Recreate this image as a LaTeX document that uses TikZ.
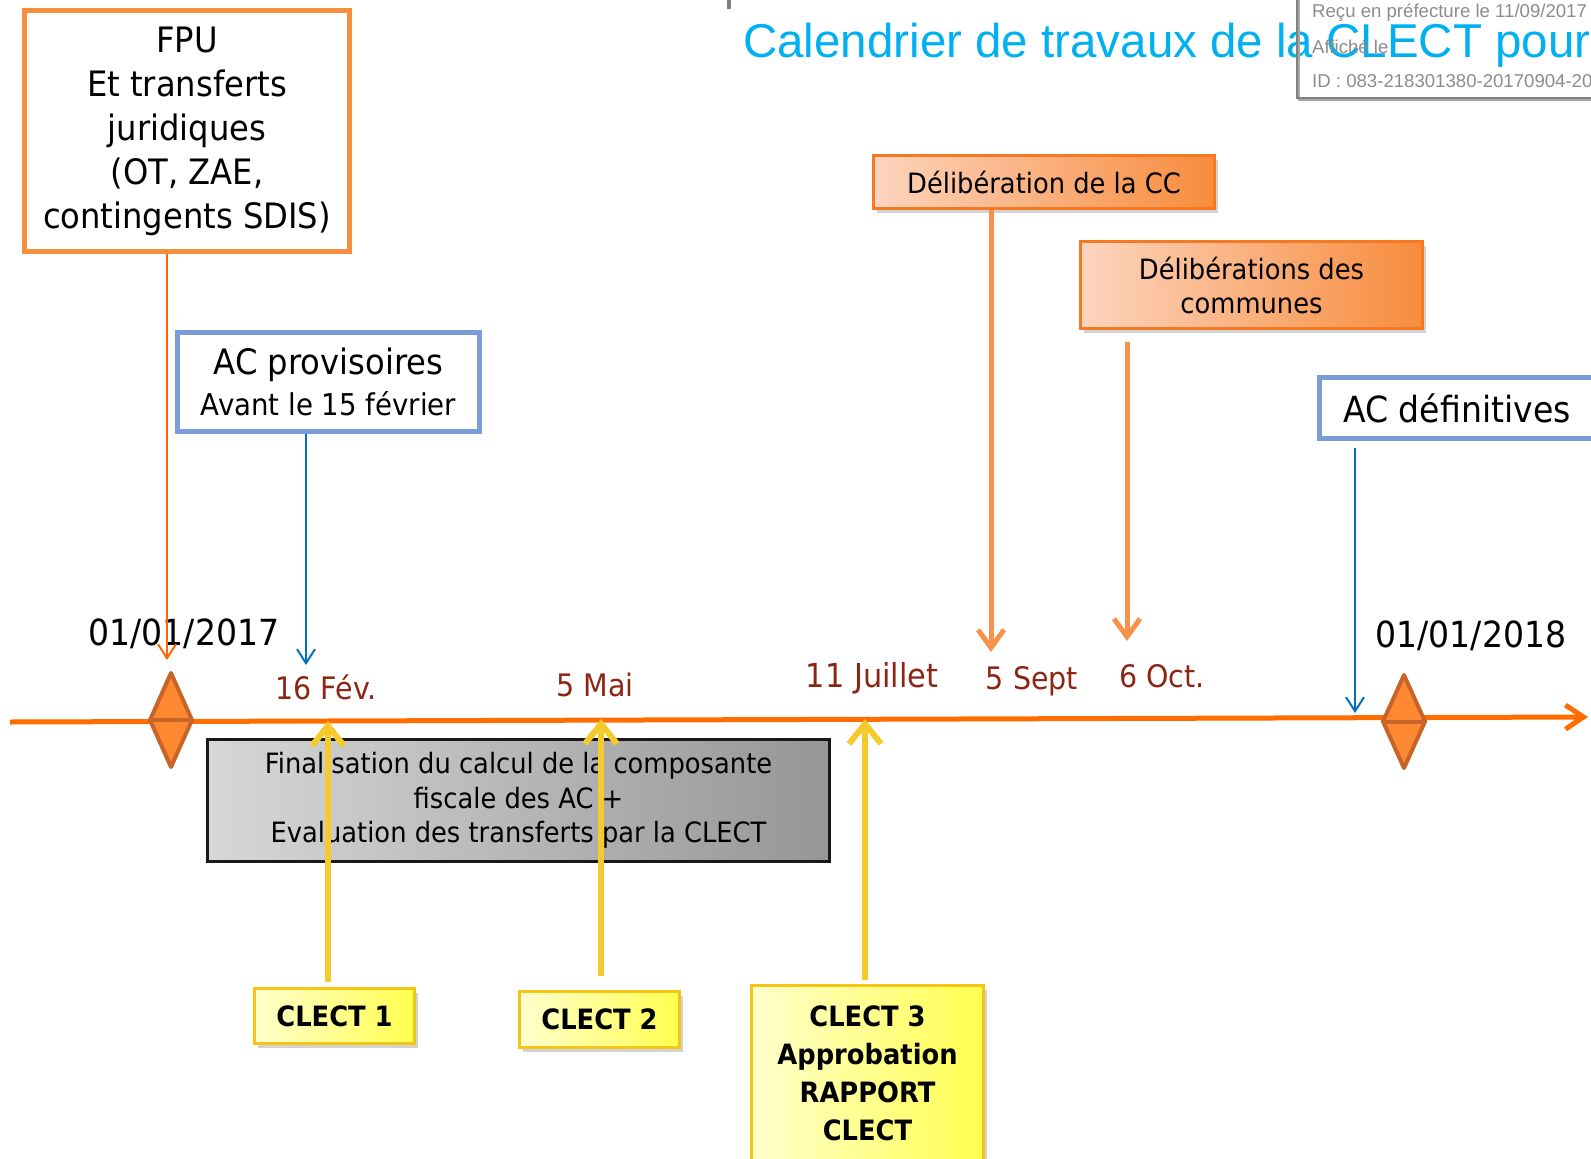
\documentclass[tikz,border=0pt]{standalone}
\usepackage{fontspec}
\usetikzlibrary{arrows.meta,shadows,calc}
\newfontfamily\tah[FakeStretch=0.92]{DejaVu Sans}
\newfontfamily\arialf{Liberation Sans}
\definecolor{fpuor}{RGB}{247,142,62}
\definecolor{thinor}{RGB}{255,102,0}
\definecolor{acblue}{RGB}{122,156,216}
\definecolor{thinblue}{RGB}{0,112,192}
\definecolor{tlor}{RGB}{255,108,0}
\definecolor{diamfill}{RGB}{255,137,51}
\definecolor{diamdraw}{RGB}{200,100,40}
\definecolor{delarrow}{RGB}{249,145,74}
\definecolor{delL}{RGB}{253,212,190}
\definecolor{delR}{RGB}{247,140,60}
\definecolor{delborder}{RGB}{245,120,35}
\definecolor{datered}{RGB}{140,38,20}
\definecolor{grayL}{RGB}{215,215,215}
\definecolor{grayR}{RGB}{150,150,150}
\definecolor{yarrow}{RGB}{245,202,45}
\definecolor{yL}{RGB}{255,255,205}
\definecolor{yR}{RGB}{255,255,80}
\definecolor{yborder}{RGB}{245,196,20}
\definecolor{titleblue}{RGB}{0,176,240}
\definecolor{stampgray}{RGB}{128,128,128}
\definecolor{stamptext}{RGB}{140,140,140}
\begin{document}
\begin{tikzpicture}[x=1pt,y=-1pt,
  fpubox/.style={draw=fpuor, line width=5pt, fill=white, align=center, inner sep=0pt,
    font=\tah\fontsize{35}{44}\selectfont},
  bluebox/.style={draw=acblue, line width=5pt, fill=white, align=center, inner sep=0pt},
  orbox/.style={draw=delborder, line width=3pt, left color=delL, right color=delR, align=center,
    inner sep=0pt, font=\tah\fontsize{28}{34}\selectfont,
    drop shadow={shadow xshift=3pt, shadow yshift=-4pt, opacity=0.35}},
  graybox/.style={draw=black!90, line width=3pt, left color=grayL, right color=grayR, align=center,
    inner sep=0pt, font=\tah\fontsize{28}{34.5}\selectfont},
  ybox/.style={draw=yborder, line width=3pt, left color=yL, right color=yR, align=center,
    inner sep=0pt, font=\tah\bfseries\fontsize{28}{38}\selectfont,
    drop shadow={shadow xshift=3pt, shadow yshift=-4pt, opacity=0.35}},
  thinorarrow/.style={draw=thinor, line width=2pt, -{Straight Barb[length=14pt,width=18pt]}},
  thinbluearrow/.style={draw=thinblue, line width=2pt, -{Straight Barb[length=14pt,width=18pt]}},
  delarr/.style={draw=delarrow, line width=5pt, -{Straight Barb[length=18pt,width=26pt]}},
  yarr/.style={draw=yarrow, line width=6pt, -{Straight Barb[length=20pt,width=32pt]}},
  datelbl/.style={anchor=base, font=\tah\fontsize{36}{40}\selectfont, text=black},
  redlbl/.style={anchor=base, font=\tah\fontsize{31}{36}\selectfont, text=datered},
  diam/.style={draw=diamdraw, fill=diamfill, line width=4pt, line join=round},
  stamp/.style={anchor=base west, font=\arialf\fontsize{18.6}{20}\selectfont, text=stamptext, inner sep=0pt}
]
\useasboundingbox (0,0) rectangle (1591,1159);

% title and stamp
\node[anchor=base west, inner sep=0pt, text=titleblue, font=\arialf\fontsize{47.5}{52}\selectfont] (title) at (743,57) {Calendrier de travaux de la CLECT pour};
\fill[stampgray] (727,0) rectangle (731,9);
\draw[stampgray!70, line width=2pt] (1299,-5) -- (1299,100) -- (1600,100);
\draw[stampgray, line width=2.5pt] (1297,-5) rectangle (1600,98);
\node[stamp] (st1) at (1312,17) {Reçu en préfecture le 11/09/2017};
\node[stamp] (st2) at (1312,53) {Affiché le};
\node[stamp] (st3) at (1312,87) {ID : 083-218301380-20170904-2017};

% timeline
\coordinate (tl0) at (10,722);
\coordinate (tl1) at (1588,717);
\draw[tlor, line width=5pt, -{Straight Barb[length=18pt,width=24pt]}] (tl0) -- (tl1);

% diamonds
\draw[diam] (171,673) -- (192,720) -- (171,767) -- (150,720) -- cycle;
\draw[diamdraw, line width=4pt] (150,720) -- (192,720);
\draw[diam] (1404,675) -- (1425,721.5) -- (1404,768) -- (1383,721.5) -- cycle;
\draw[diamdraw, line width=4pt] (1383,721.5) -- (1425,721.5);

% boxes
\node[fpubox, minimum width=325pt, minimum height=241pt] (fpu) at (187,131)
  {FPU\\Et transferts\\juridiques\\(OT, ZAE,\\contingents SDIS)};
\node[bluebox, minimum width=302pt, minimum height=99pt, font=\tah\fontsize{35}{41}\selectfont] (acp) at (328.5,382)
  {AC provisoires\\{\fontsize{30}{41}\selectfont Avant le 15 février}};
\node[bluebox, minimum width=276pt, minimum height=61pt, font=\tah\fontsize{36}{40}\selectfont] (acd) at (1457,408)
  {AC définitives};
\node[orbox, minimum width=341pt, minimum height=53pt] (delcc) at (1044,182) {Délibération de la CC};
\node[orbox, minimum width=342pt, minimum height=87pt] (delcom) at (1251.5,285) {Délibérations des\\communes};
\node[graybox, minimum width=622pt, minimum height=122pt] (fin) at (518.5,800.5)
  {Finalisation du calcul de la composante\\fiscale des AC +\\Evaluation des transferts par la CLECT};
\node[ybox, minimum width=160pt, minimum height=55pt] (c1) at (334.5,1016) {CLECT 1};
\node[ybox, minimum width=160pt, minimum height=56pt] (c2) at (599.5,1019.5) {CLECT 2};
\node[ybox, minimum width=232pt, minimum height=175pt] (c3) at (867.5,1073) {CLECT 3\\Approbation\\RAPPORT\\CLECT};

% date labels
\node[datelbl] (d17) at (184,645) {01/01/2017};
\node[datelbl] (d18) at (1471,647) {01/01/2018};
\node[redlbl] (l16) at (326,699) {16 Fév.};
\node[redlbl] (l5m) at (595,696) {5 Mai};
\node[redlbl, font=\tah\fontsize{33}{36}\selectfont] (l11) at (872,687) {11 Juillet};
\node[redlbl] (l5s) at (1032,689) {5 Sept};
\node[redlbl] (l6o) at (1162,687) {6 Oct.};

% connector end points
\coordinate (fpuend) at (167,660);
\coordinate (acpend) at (306,665);
\coordinate (delccend) at (991,652);
\coordinate (delcomend) at (1127,641);
\coordinate (acdend) at (1355,713);
\coordinate (c1end) at (328,721);
\coordinate (c2end) at (601,719);
\coordinate (c3end) at (865,719);

% connectors
\draw[thinorarrow] ([xshift=-20pt]fpu.south) -- (fpuend);
\draw[thinbluearrow] ([xshift=-22.5pt]acp.south) -- (acpend);
\draw[thinbluearrow, shorten <=7pt] ([xshift=-102pt]acd.south) -- (acdend);
\draw[delarr] ([xshift=-53pt]delcc.south) -- (delccend);
\draw[delarr, shorten <=12pt] ([xshift=-124.5pt]delcom.south) -- (delcomend);
\draw[yarr, shorten <=5pt] ([xshift=-6.5pt]c1.north) -- (c1end);
\draw[yarr, shorten <=14pt] ([xshift=1.5pt]c2.north) -- (c2end);
\draw[yarr, shorten <=4pt] ([xshift=-2.5pt]c3.north) -- (c3end);
\end{tikzpicture}
\end{document}
